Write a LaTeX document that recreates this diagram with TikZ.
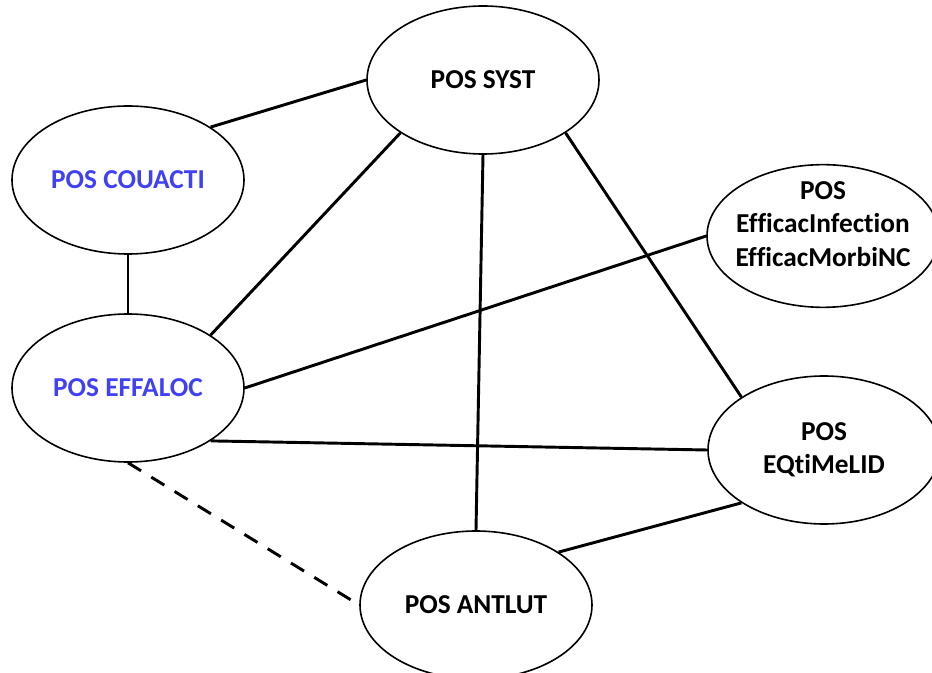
\documentclass[tikz,border=0pt]{standalone}
\usepackage{fontspec}
\setmainfont{Carlito}[Ligatures=NoCommon]
\usepackage{tikz}
\usetikzlibrary{shapes.geometric}
\definecolor{posblue}{RGB}{64,64,245}

\begin{document}
\begin{tikzpicture}[x=0.75pt,y=-0.75pt,
  bubble/.style={ellipse,draw,line width=1.2pt,inner sep=0pt,
    minimum width=174pt,minimum height=111pt},
  txt/.style={font=\fontsize{20.5}{25}\selectfont\bfseries,align=center,inner sep=0pt},
  link/.style={line width=2.2pt}]
\clip (0,0) rectangle (932,673);
\node[bubble] (syst) at (483,80) {};
\node[bubble] (couacti) at (128,180) {};
\node[bubble] (effaloc) at (128,388) {};
\node[bubble,minimum height=107pt] (efficac) at (823,236) {};
\node[bubble] (eqtime) at (824,450) {};
\node[bubble] (antlut) at (476,605) {};

\node[txt] (systtxt) at (syst) {POS SYST};
\node[txt,text=posblue] (couactitxt) at (couacti) {POS COUACTI};
\node[txt,text=posblue] (effaloctxt) at (effaloc) {POS EFFALOC};
\node[txt] (efficactxt) at ([yshift=9pt]efficac.center) {POS\\EfficacInfection\\EfficacMorbiNC};
\node[txt] (eqtimetxt) at (eqtime) {POS\\EQtiMeLID};
\node[txt] (antluttxt) at (antlut) {POS ANTLUT};

\draw[link] (couacti.north east) -- (syst.west);
\draw[link] (couacti.south) -- (effaloc.north);
\draw[link] (effaloc.north east) -- (syst.south west);
\draw[link] (effaloc.east) -- (efficac.west);
\draw[link] (effaloc.south east) -- (eqtime.west);
\draw[link,dash pattern=on 11.5pt off 9pt] (effaloc.south) -- (antlut.west);
\draw[link] (syst.south) -- (antlut.north);
\draw[link] (syst.south east) -- (eqtime.north west);
\draw[link] (antlut.north east) -- (eqtime.south west);
\end{tikzpicture}
\end{document}
